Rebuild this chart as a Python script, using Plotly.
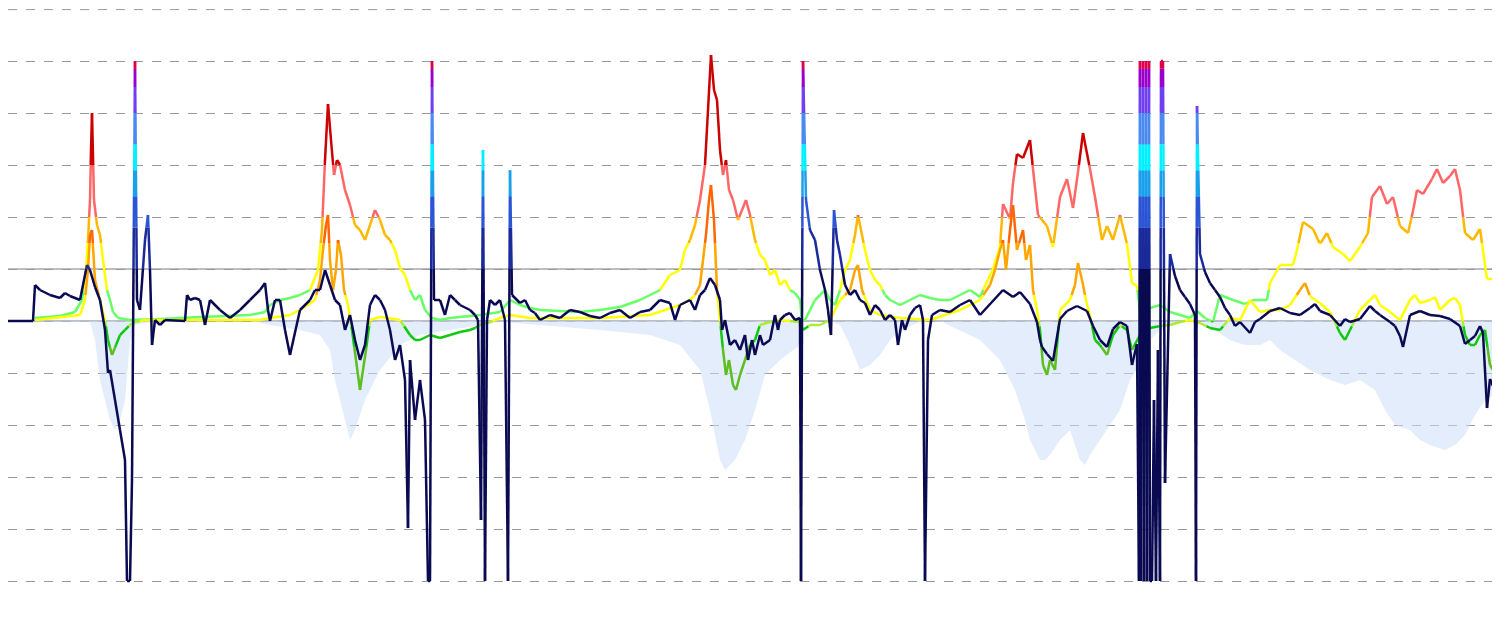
import plotly.graph_objects as go

def px2v(p):
    return [(321 - y) / 52.0 for y in p]

# ---- data (x = time index, y) ----
navy_x = [8,33,35,40,50,60,65,70,80,87,90,95,100,105,108,110,115,120,125,127,130,132,135,137,140,145,148,150,152,155,160,165,185,187,190,195,200,205,210,220,230,240,250,260,265,268,270,275,280,285,290,300,310,315,320,325,330,335,340,345,350,355,360,365,370,375,380,385,390,395,400,405,408,410,415,420,425,428,430,432,434,440,445,450,455,460,470,475,478,481,483,485,487,490,495,500,505,508,510,512,520,525,530,535,540,550,560,570,580,590,600,610,620,630,640,650,660,670,675,680,690,695,700,705,710,715,720,722,725,730,735,740,745,748,752,755,760,763,770,775,778,780,785,790,795,800,801,803,806,810,815,820,825,828,831,834,837,840,845,850,855,860,865,870,875,880,885,890,895,898,902,905,910,915,920,923,925,928,932,940,950,960,970,980,1003,1013,1020,1030,1037,1040,1042,1047,1053,1060,1067,1077,1087,1093,1100,1107,1113,1120,1127,1132,1137,1139,1140,1141,1143,1144,1146,1147,1149,1150,1152,1154,1156,1158,1160,1161,1163,1165,1170,1175,1180,1185,1190,1195,1196,1197,1200,1205,1210,1215,1220,1225,1230,1235,1240,1250,1255,1260,1270,1280,1290,1300,1310,1315,1320,1330,1340,1345,1350,1360,1370,1375,1380,1390,1395,1400,1403,1410,1420,1430,1440,1450,1460,1465,1470,1475,1480,1483,1487,1490,1493]
navy_ypx = [321,321,285,290,295,298,293,296,300,265,270,287,300,330,373,370,400,430,460,581,581,480,61,300,310,240,215,270,345,320,325,320,321,295,300,298,300,325,300,310,318,310,300,290,283,310,321,300,300,330,355,310,300,290,290,270,285,300,305,330,315,340,360,345,305,295,300,310,330,360,345,380,528,360,420,380,420,581,581,61,300,300,315,295,300,305,310,315,320,520,150,581,320,300,305,300,320,581,170,295,303,300,310,313,320,315,318,310,312,316,318,313,310,318,312,310,300,303,320,305,300,310,295,290,278,285,300,330,320,345,340,350,335,360,340,355,335,345,340,315,330,320,315,313,320,318,581,61,200,230,240,270,290,310,335,210,240,255,285,295,290,300,303,315,305,310,320,315,320,345,320,330,315,308,305,320,581,340,315,310,312,305,300,315,290,297,292,304,322,340,347,354,361,319,311,306,311,326,340,347,329,322,326,365,344,581,61,581,61,581,61,581,61,581,581,400,581,350,581,61,61,483,254,276,290,297,304,315,581,106,254,272,283,290,297,308,315,326,322,333,322,319,311,308,313,315,308,304,311,315,326,319,322,319,306,311,315,322,326,336,347,315,311,315,316,319,326,344,340,336,326,333,408,379,386]

upper_x = [35,60,75,82,86,88,90,91,92,94,97,100,103,107,110,113,118,130,160,200,250,265,270,280,290,300,310,318,322,325,328,331,334,337,340,345,350,355,360,365,370,375,380,385,390,395,400,405,410,415,420,425,432,440,450,470,480,500,510,520,530,540,560,580,600,620,640,660,670,680,685,690,695,700,705,708,711,714,717,720,723,726,729,733,738,742,746,750,755,760,765,770,775,780,785,790,795,800,802,805,810,815,820,825,830,835,840,845,850,855,858,861,865,870,875,880,885,890,900,910,920,930,940,950,960,970,980,993,1000,1003,1010,1013,1017,1023,1030,1033,1038,1047,1053,1060,1067,1073,1078,1083,1090,1095,1102,1107,1113,1120,1127,1132,1137,1140,1150,1160,1170,1180,1190,1197,1205,1213,1220,1233,1245,1253,1267,1270,1280,1293,1297,1303,1313,1320,1327,1333,1343,1350,1360,1368,1372,1380,1387,1393,1400,1408,1413,1417,1423,1432,1437,1443,1450,1455,1460,1465,1473,1480,1487,1493]
upper_ypx = [318,316,312,300,270,240,200,150,113,200,225,235,260,290,300,312,318,320,319,317,315,312,305,300,298,295,290,270,230,160,104,140,175,160,165,190,205,225,230,240,225,210,220,235,240,250,268,275,290,300,295,310,318,320,318,316,315,312,300,305,308,310,311,312,310,307,300,290,275,270,250,240,225,200,165,110,55,90,100,150,175,160,190,200,220,210,200,215,240,255,260,275,270,285,280,290,293,300,321,320,310,300,295,290,300,305,290,270,260,235,215,230,250,270,280,285,295,300,305,300,295,298,300,300,295,290,297,269,247,204,219,183,154,158,140,169,215,226,247,197,179,208,172,133,169,197,240,226,240,215,244,283,286,311,308,305,312,315,318,311,318,322,295,300,304,300,300,283,265,265,250,222,229,244,233,247,254,261,247,233,197,186,204,197,226,233,211,190,194,179,169,183,176,169,190,233,240,229,279,279]

mid_x = [35,80,85,88,90,92,95,100,105,108,112,116,120,125,130,135,145,200,260,270,290,300,315,320,323,326,328,330,333,336,338,341,344,348,352,356,360,363,366,370,380,400,410,415,420,430,440,450,460,470,475,480,490,500,510,530,600,650,680,690,695,700,703,706,709,711,714,717,720,723,726,729,733,736,740,745,750,755,760,770,780,800,803,810,820,830,840,850,855,858,862,866,870,880,900,930,960,980,990,995,1000,1003,1006,1010,1013,1017,1020,1023,1026,1030,1033,1037,1040,1043,1047,1050,1055,1060,1065,1070,1075,1078,1082,1086,1090,1095,1100,1107,1113,1120,1127,1132,1140,1150,1160,1170,1180,1190,1200,1210,1220,1230,1240,1250,1260,1270,1280,1290,1300,1305,1310,1315,1320,1330,1340,1345,1350,1360,1370,1375,1380,1390,1400,1410,1415,1420,1430,1435,1440,1450,1455,1460,1465,1470,1475,1480,1485,1490,1493]
mid_ypx = [320,315,300,270,235,230,280,300,320,340,355,345,335,330,325,322,320,320,320,318,315,310,300,280,250,225,215,260,290,270,240,255,290,305,330,360,390,370,350,320,317,320,335,340,340,335,338,335,332,330,328,325,322,318,315,318,318,315,305,300,295,285,260,235,200,185,220,290,320,350,375,360,385,390,375,360,345,340,325,322,320,322,330,325,325,320,300,290,270,265,290,300,310,315,318,320,310,300,285,270,250,240,270,230,205,250,240,230,260,245,290,310,330,365,375,360,370,310,305,300,285,263,280,300,316,340,345,355,335,325,330,350,335,328,326,325,322,320,323,328,330,318,320,300,312,310,310,305,290,283,296,300,303,312,333,340,330,310,300,295,305,312,320,300,295,303,300,297,310,300,298,305,335,345,345,335,330,365,370]

area_x = [8,90,95,100,105,110,115,120,125,130,135,150,250,270,300,320,330,335,340,345,350,355,360,365,370,380,400,420,450,500,540,600,650,680,700,710,720,725,735,745,755,765,780,800,803,830,840,850,860,870,880,890,900,920,940,980,1000,1015,1025,1030,1040,1045,1050,1060,1070,1075,1080,1085,1090,1100,1110,1120,1130,1140,1150,1160,1180,1200,1215,1230,1245,1260,1270,1280,1295,1310,1320,1330,1345,1360,1375,1385,1395,1410,1420,1430,1445,1455,1465,1475,1485,1493]
area_ypx = [321,322,340,380,400,420,430,420,400,340,325,322,321,325,330,335,350,380,400,420,440,430,415,400,390,370,345,335,330,322,325,330,335,345,370,410,460,470,460,440,410,375,360,345,322,321,325,345,370,365,355,340,330,322,321,340,360,390,420,440,460,460,455,440,430,445,460,465,455,440,425,410,380,365,340,330,321,321,330,340,345,345,340,350,360,370,375,380,385,380,390,410,425,430,440,445,450,445,435,415,400,395]

navy_y = px2v(navy_ypx)
upper_y = px2v(upper_ypx)
mid_y = px2v(mid_ypx)
area_y = px2v(area_ypx)

navy_bands = [(-99,1.0,"#0a0a52"),(1.0,1.8,"#1a2a9a"),(1.8,2.4,"#2a55d5"),(2.4,2.9,"#1aa0ea"),(2.9,3.4,"#00f0ff"),(3.4,4.0,"#4a8af0"),(4.0,4.5,"#7040f0"),(4.5,4.85,"#9a00cc"),(4.85,99,"#e0004a")]
upper_bands = [(-99,0,"#5cbf1f"),(0,0.6,"#66ff66"),(0.6,1.5,"#ffff00"),(1.5,2.0,"#ffb800"),(2.0,3.0,"#ff6666"),(3.0,99,"#cc0000")]
mid_bands = [(-99,-0.5,"#5cbf1f"),(-0.5,-0.1,"#11c811"),(-0.1,0,"#aaee33"),(0,0.5,"#ffff00"),(0.5,1.5,"#ffa500"),(1.5,3.0,"#ff6600"),(3.0,99,"#cc0000")]

def band_traces(xs, ys, bands, width):
    buckets = {c: ([], []) for _, _, c in bands}
    levels = sorted(set([b[0] for b in bands[1:]]))
    def col(v):
        for lo, hi, c in bands:
            if lo <= v < hi:
                return c
        return bands[-1][2]
    for i in range(len(xs) - 1):
        x0, y0, x1, y1 = xs[i], ys[i], xs[i+1], ys[i+1]
        ts = [0.0, 1.0]
        if y1 != y0:
            for L in levels:
                t = (L - y0) / (y1 - y0)
                if 0 < t < 1:
                    ts.append(t)
        ts.sort()
        for a, b in zip(ts[:-1], ts[1:]):
            xa, ya = x0 + a*(x1-x0), y0 + a*(y1-y0)
            xb, yb = x0 + b*(x1-x0), y0 + b*(y1-y0)
            c = col((ya+yb)/2)
            bx, by = buckets[c]
            bx += [xa, xb, None]; by += [ya, yb, None]
    out = []
    for c, (bx, by) in buckets.items():
        if bx:
            out.append(go.Scatter(x=bx, y=by, mode="lines", line=dict(color=c, width=width),
                                  hoverinfo="skip", showlegend=False))
    return out

fig = go.Figure()
fig.add_trace(go.Scatter(x=area_x, y=area_y, mode="lines", line=dict(width=0),
                         fill="tozeroy", fillcolor="rgba(205,222,250,0.55)", showlegend=False))
for t in band_traces(upper_x, upper_y, upper_bands, 2.5): fig.add_trace(t)
for t in band_traces(mid_x, mid_y, mid_bands, 2.5): fig.add_trace(t)
for t in band_traces(navy_x, navy_y, navy_bands, 2.5): fig.add_trace(t)

for lv in [0, 1]:
    fig.add_shape(type="line", xref="paper", x0=0, x1=1, y0=lv, y1=lv,
                  line=dict(color="#7a7f8a", width=1.2), layer="below")
fig.add_shape(type="line", xref="paper", yref="paper", x0=0, x1=1, y0=0.999, y1=0.999,
              line=dict(color="#999999", width=1, dash="dash"), layer="below")

fig.update_layout(
    width=1500, height=633, margin=dict(l=0, r=13, t=1, b=8, pad=0),
    plot_bgcolor="white", paper_bgcolor="white", showlegend=False,
    xaxis=dict(range=[8, 1495], showgrid=False, zeroline=False, showticklabels=False, visible=False),
    yaxis=dict(range=[-6, 6], dtick=1, showgrid=True, gridcolor="#999999", griddash="dash",
               gridwidth=1, zeroline=False, showticklabels=False, showline=False),
)
fig.write_html("out.html")
